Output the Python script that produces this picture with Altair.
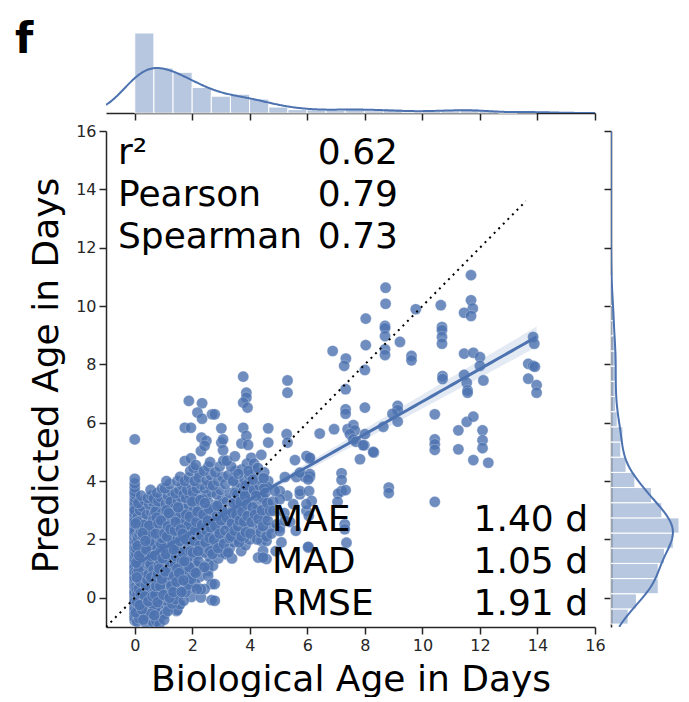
import numpy as np
import pandas as pd
import altair as alt

BLUE = "#4c72b0"
INK = "#262626"
FONT = "DejaVu Sans"

tick_values = [0, 2, 4, 6, 8, 10, 12, 14, 16]
axis_domain = [-1, 16]

stat_names_top = ["r²", "Pearson", "Spearman"]
stat_values_top = ["0.62", "0.79", "0.73"]
stat_names_bottom = ["MAE", "MAD", "RMSE"]
stat_values_bottom = ["1.40 d", "1.05 d", "1.91 d"]

identity_line = [-1.0, 13.6]

# predicted ages of the samples whose biological age is exactly 0 d
pred_at_age_zero = [-0.78, -0.71, -0.63, -0.52, -0.46, -0.38, -0.3, -0.22, -0.15, -0.06,
                    0.02, 0.1, 0.17, 0.26, 0.33, 0.41, 0.48, 0.56, 0.63, 0.71, 0.79, 0.86,
                    0.94, 1.02, 1.09, 1.17, 1.26, 1.33, 1.41, 1.49, 1.56, 1.64, 1.72, 1.8,
                    1.87, 1.95, 2.03, 2.11, 2.18, 2.26, 2.34, 2.41, 2.49, 2.57, 2.65, 2.72,
                    2.8, 2.88, 2.95, 3.03, 3.12, 3.21, 3.3, 3.42, 3.55, 3.64, 3.78, 3.92,
                    4.08, 5.43, 0.3, 0.62, 0.91, 1.22, 1.53, 1.84, 2.15, 2.44, 0.05, -0.33,
                    0.77, 1.36, 1.97, 2.2, 2.5, 1.9, 2.7, -0.68, -0.41, -0.12, 0.14, 0.37,
                    0.52, 0.67, 0.83, 0.98, 1.13, 1.29, 1.45, 1.6, 1.76, 1.91, 2.07, 2.22,
                    2.38, 2.53, 2.69, 2.84, 3.0, 0.22, 0.58, 1.05, 1.7, 2.3, 2.62, -0.55,
                    0.45, 0.18, 0.38, 0.68, 0.88]

# (biological age, predicted age) pairs, grouped by biological-age band
band_00_035 = [(0.08, -0.82), (0.12, -0.6), (0.2, -0.45), (0.1, -0.3), (0.25, -0.15), (0.15, 0.0),
               (0.3, 0.1), (0.08, 0.22), (0.22, 0.35), (0.12, 0.5), (0.3, 0.6), (0.18, 0.72),
               (0.07, 0.85), (0.27, 0.95), (0.15, 1.08), (0.33, 1.2), (0.1, 1.3), (0.22, 1.42),
               (0.3, 1.55), (0.12, 1.65), (0.25, 1.75), (0.18, 1.88), (0.32, 2.0), (0.08, 2.1),
               (0.2, 2.2), (0.28, 2.32), (0.13, 2.45), (0.35, 2.55), (0.2, 2.65), (0.1, 2.78),
               (0.3, 2.9), (0.18, 3.0), (0.26, 3.12), (0.12, 3.25), (0.34, 3.35), (0.22, 3.5),
               (0.15, -0.7), (0.3, -0.5), (0.05, 0.4), (0.2, 1.0), (0.27, 1.6), (0.1, 2.6),
               (0.33, 2.2), (0.05, 1.5), (0.25, 0.25), (0.28, 1.85), (0.05, 1.7)]
band_035_07 = [(0.4, -0.88), (0.55, -0.75), (0.45, -0.6), (0.65, -0.45), (0.5, -0.3), (0.38, -0.15),
               (0.6, -0.05), (0.48, 0.08), (0.68, 0.2), (0.42, 0.3), (0.58, 0.42), (0.36, 0.55),
               (0.52, 0.65), (0.66, 0.78), (0.44, 0.9), (0.6, 1.0), (0.4, 1.12), (0.55, 1.25),
               (0.68, 1.35), (0.47, 1.48), (0.62, 1.6), (0.38, 1.7), (0.53, 1.82), (0.67, 1.95),
               (0.45, 2.05), (0.6, 2.15), (0.4, 2.28), (0.56, 2.4), (0.68, 2.5), (0.48, 2.62),
               (0.63, 2.72), (0.42, 2.85), (0.57, 2.95), (0.67, 3.08), (0.5, 3.2), (0.62, 3.3),
               (0.45, 3.42), (0.58, 3.5), (0.55, 3.7), (0.65, -0.85), (0.5, 0.5), (0.62, 1.15),
               (0.43, 1.9), (0.58, 2.55), (0.66, 3.4), (0.4, 0.7), (0.52, 2.2), (0.6, 0.25),
               (0.47, 1.35), (0.68, 2.85), (0.55, 1.95), (0.6, 1.75), (0.65, 2.2)]
band_07_10 = [(0.75, -0.8), (0.9, -0.65), (0.82, -0.4), (0.95, -0.2), (0.72, 0.0), (0.88, 0.15),
              (0.78, 0.3), (0.98, 0.45), (0.85, 0.6), (0.73, 0.75), (0.93, 0.88), (0.8, 1.0),
              (0.96, 1.15), (0.76, 1.28), (0.9, 1.4), (0.83, 1.55), (0.98, 1.68), (0.72, 1.8),
              (0.88, 1.92), (0.78, 2.05), (0.95, 2.18), (0.85, 2.3), (0.74, 2.42), (0.92, 2.55),
              (0.8, 2.68), (0.97, 2.8), (0.86, 2.92), (0.75, 3.05), (0.93, 3.18), (0.82, 3.3),
              (0.9, 3.45), (0.78, 3.6), (0.95, 3.75), (0.86, -0.9), (0.78, 0.5), (0.93, 1.5),
              (0.85, 2.45), (0.72, 2.95), (0.98, 2.1), (0.8, 1.7), (0.7, 2.6), (0.95, 2.9)]
band_10_135 = [(1.05, -0.55), (1.2, -0.3), (1.1, -0.1), (1.3, 0.1), (1.02, 0.3), (1.18, 0.45),
               (1.08, 0.62), (1.28, 0.78), (1.15, 0.92), (1.03, 1.05), (1.25, 1.2), (1.12, 1.35),
               (1.32, 1.48), (1.07, 1.6), (1.22, 1.72), (1.14, 1.85), (1.3, 1.98), (1.04, 2.1),
               (1.2, 2.22), (1.1, 2.35), (1.28, 2.48), (1.16, 2.6), (1.05, 2.72), (1.24, 2.85),
               (1.12, 2.98), (1.3, 3.1), (1.08, 3.22), (1.2, 3.35), (1.15, 3.5), (1.3, 3.62),
               (1.05, 3.75), (1.22, 3.9), (1.1, 4.0), (1.33, 2.3), (1.18, 1.5), (1.27, 2.7),
               (1.02, 1.9), (1.12, 0.2), (1.25, 3.3), (1.0, 2.5), (1.02, 2.4), (1.15, 2.05),
               (1.3, 2.6), (1.22, 1.8), (1.1, 2.65), (1.05, 1.7)]
band_135_17 = [(1.45, -0.45), (1.55, -0.25), (1.5, 0.05), (1.4, 0.35), (1.62, 0.5), (1.48, 0.7),
               (1.38, 0.95), (1.58, 1.1), (1.45, 1.25), (1.68, 1.38), (1.4, 1.52), (1.55, 1.65),
               (1.65, 1.8), (1.42, 1.95), (1.58, 2.08), (1.48, 2.2), (1.68, 2.32), (1.38, 2.45),
               (1.52, 2.58), (1.62, 2.7), (1.45, 2.82), (1.56, 2.95), (1.4, 3.08), (1.66, 3.2),
               (1.5, 3.32), (1.6, 3.45), (1.42, 3.58), (1.55, 3.7), (1.65, 3.85), (1.48, 4.0),
               (1.58, 4.15), (1.7, 3.0), (1.52, 2.4), (1.63, 1.95), (1.38, 2.75), (1.47, 1.6),
               (1.7, 3.55), (1.6, 2.2), (1.45, 2.15), (1.6, 2.45), (1.55, 2.85), (1.4, 1.85),
               (1.7, 2.6), (1.35, 2.9), (1.48, -0.42), (1.57, -0.22)]
band_17_20 = [(1.74, 5.83), (1.88, 6.75), (1.95, 5.83), (1.74, 4.69), (1.95, 4.78), (1.75, 0.3),
              (1.97, 0.03), (1.97, 0.35), (1.85, 0.8), (1.78, 1.2), (1.92, 1.45), (1.8, 1.6),
              (1.98, 1.75), (1.72, 1.9), (1.88, 2.02), (1.78, 2.15), (1.95, 2.3), (1.83, 2.42),
              (1.72, 2.55), (1.9, 2.68), (1.8, 2.8), (1.98, 2.92), (1.75, 3.05), (1.87, 3.18),
              (1.96, 3.3), (1.78, 3.42), (1.9, 3.55), (1.82, 3.7), (1.98, 3.85), (1.74, 4.0),
              (1.88, 4.12), (1.93, 4.35), (1.8, 2.5), (1.95, 1.0), (1.75, 2.3), (1.9, 2.1),
              (1.85, 1.7), (2.0, 1.9)]
band_20_235 = [(2.34, 6.67), (2.18, 6.35), (2.34, 6.14), (2.32, 5.49), (2.3, 5.03), (2.04, 4.45),
               (2.25, 4.3), (2.12, 4.55), (2.3, 0.01), (2.26, 0.72), (2.3, 1.04), (2.1, 0.5),
               (2.05, 1.3), (2.2, 1.5), (2.32, 1.62), (2.08, 1.75), (2.18, 1.88), (2.28, 2.0),
               (2.15, 2.25), (2.3, 2.38), (2.07, 2.5), (2.12, 2.75),
               (2.33, 2.88), (2.05, 3.0), (2.2, 3.12), (2.28, 3.25), (2.1, 3.38), (2.25, 3.5),
               (2.02, 3.62), (2.16, 3.75), (2.3, 3.88), (2.08, 4.0), (2.22, 4.12), (2.15, 1.1),
               (2.35, 2.7), (2.0, 3.3)]
band_235_27 = [(2.49, 5.38), (2.43, 5.21), (2.69, 6.29), (2.55, 1.15), (2.55, 0.92), (2.55, 0.75),
               (2.67, 0.47), (2.43, 0.3), (2.67, -0.08), (2.6, 1.4), (2.42, 1.55), (2.52, 1.7),
               (2.65, 1.85), (2.38, 2.0), (2.5, 2.12), (2.62, 2.25), (2.68, 2.62), (2.4, 2.75),
               (2.55, 2.88), (2.64, 3.0), (2.47, 3.12), (2.58, 3.25), (2.37, 3.38), (2.52, 3.5),
               (2.66, 3.62), (2.44, 3.75), (2.6, 3.88), (2.5, 4.02), (2.65, 4.2), (2.4, 4.35),
               (2.56, 4.5), (2.62, 4.65), (2.3, 0.3)]
band_27_31 = [(2.78, 6.29), (3.01, 5.81), (3.01, 5.32), (3.07, 5.43), (3.07, 5.06), (2.78, 0.47),
              (2.78, -0.1), (2.72, 1.1), (2.9, 1.35), (3.0, 1.55), (2.8, 1.72), (2.95, 1.88),
              (3.08, 2.05), (2.75, 2.2), (2.88, 2.35), (3.02, 2.5), (2.82, 2.65), (2.97, 2.8),
              (3.1, 2.95), (2.76, 3.1), (2.92, 3.25), (3.05, 3.4), (2.85, 3.55), (2.98, 3.7),
              (2.72, 3.85), (2.9, 4.0), (3.05, 4.15), (2.8, 4.3), (2.95, 4.5), (3.08, 4.7)]
band_31_36 = [(3.15, 1.5), (3.3, 1.7), (3.45, 1.9), (3.2, 2.1), (3.55, 2.25), (3.35, 2.4),
              (3.15, 2.55), (3.5, 2.7), (3.25, 2.85), (3.4, 3.0), (3.58, 3.15), (3.2, 3.3),
              (3.45, 3.45), (3.3, 3.6), (3.55, 3.75), (3.15, 3.9), (3.4, 4.05), (3.25, 4.2),
              (3.5, 4.35), (3.35, 4.5), (3.2, 4.7), (3.48, 4.85), (3.6, 2.0), (3.38, 1.35),
              (3.52, 3.3), (3.28, 2.65)]
band_36_41 = [(3.77, 7.58), (3.88, 7.03), (3.88, 6.86), (3.77, 6.69), (3.92, 6.52), (3.77, 5.83),
              (3.71, 5.29), (3.88, 5.55), (3.94, 5.24), (3.7, 1.6), (3.85, 1.8), (4.0, 2.0),
              (3.65, 2.2), (3.8, 2.4), (3.95, 2.55), (3.7, 2.7), (4.05, 2.85), (3.85, 3.0),
              (3.65, 3.15), (3.98, 3.3), (3.75, 3.45), (3.9, 3.6), (4.08, 3.75), (3.68, 3.9),
              (3.82, 4.05), (3.98, 4.2), (3.72, 4.4), (3.9, 4.6), (4.05, 4.8), (3.8, 2.05)]
band_41_47 = [(4.64, 5.81), (4.64, 5.32), (4.17, 4.35), (4.64, 4.0), (4.41, 3.66), (4.29, 3.21),
              (4.64, 3.21), (4.52, 2.75), (4.41, 1.95), (4.46, 1.61), (4.29, 1.38), (4.58, 1.33),
              (4.2, 2.3), (4.35, 2.5), (4.55, 2.9), (4.25, 3.0), (4.45, 3.4), (4.6, 3.8),
              (4.3, 4.1), (4.5, 4.3), (4.15, 4.6), (4.4, 4.9), (4.7, 2.4), (4.46, 3.43),
              (4.58, 1.95), (4.46, 1.38)]
# lower part of the dense cloud, below the identity line
low_blob = [(0.72, -0.35), (0.85, -0.05), (0.95, 0.3), (1.02, -0.75), (1.08, 0.05), (1.15, -0.45),
            (1.22, 0.25), (1.3, -0.2), (1.35, 0.6), (1.42, -0.05), (1.5, 0.9), (1.58, 0.25),
            (1.65, 0.75), (1.7, -0.1), (1.78, 0.55), (1.85, 1.1), (1.92, 0.7), (0.78, 0.95),
            (0.9, 1.25), (1.0, 0.75), (1.12, 1.15), (1.2, 0.55), (1.28, 1.35), (1.38, 1.05),
            (1.45, 0.5), (1.52, 1.4), (1.6, 0.95), (1.68, 1.15), (1.75, 0.9), (1.82, 1.35),
            (0.1, 0.65), (0.25, 1.25), (0.4, 0.15), (0.5, 0.95), (0.62, -0.25), (0.35, 1.35),
            (0.55, 0.35), (0.3, -0.3), (0.45, 1.6), (0.6, 0.6), (0.06, 0.28), (0.16, 0.6),
            (0.26, 0.5), (0.36, 0.85), (0.46, 0.2), (0.56, 0.55), (0.66, 0.35), (0.76, 0.12),
            (0.86, 0.9), (0.96, 0.6), (1.06, 0.35), (1.16, 0.15), (1.26, 0.95), (1.36, 0.4),
            (1.46, 0.85), (1.56, 0.6), (1.66, 0.95), (1.76, 0.2), (1.86, 0.45), (1.96, 0.65),
            (2.06, 0.9), (2.16, 0.3), (1.9, 1.05), (1.3, 0.25), (0.9, 0.3), (0.5, 0.75)]
# overlapping samples inside the dense cloud (0-4.7 d)
cloud_0_07 = [(0.04, -0.5), (0.09, 0.12), (0.14, 0.3), (0.19, 0.55), (0.24, 0.78), (0.29, 0.88),
              (0.34, 1.02), (0.39, 1.18), (0.44, 1.25), (0.49, 1.4), (0.54, 1.55), (0.59, 1.68),
              (0.64, 1.8), (0.06, 1.92), (0.11, 2.05), (0.16, 2.18), (0.21, 2.28), (0.26, 2.4),
              (0.31, 2.5), (0.36, -0.62), (0.41, 1.72), (0.46, 0.52), (0.51, 1.93), (0.56, -0.55),
              (0.61, 2.38), (0.03, 2.55), (0.08, -0.15), (0.13, 0.95), (0.18, 1.35), (0.23, 1.55),
              (0.28, 2.12), (0.33, 0.72), (0.38, 0.42), (0.43, 0.62), (0.48, 0.8), (0.53, 1.1),
              (0.58, 2.25), (0.63, 2.65), (0.05, 1.2), (0.1, 1.78), (0.15, 1.45), (0.2, 0.15),
              (0.25, -0.4), (0.3, -0.75), (0.35, 0.05), (0.4, 1.65), (0.45, 2.18), (0.5, 2.48),
              (0.55, 1.15), (0.6, 1.42), (0.65, 0.95), (0.07, 0.7), (0.17, -0.25), (0.27, 2.22),
              (0.37, 1.95), (0.47, -0.12), (0.57, 0.7), (0.62, 0.05)]
cloud_07_13 = [(0.68, -0.6), (0.71, 0.1), (0.74, 0.4), (0.77, 0.68), (0.8, 0.82), (0.83, 1.1),
               (0.86, 1.32), (0.89, 1.6), (0.92, 1.85), (0.95, 2.05), (0.98, 2.28), (1.01, 2.5),
               (1.04, 2.62), (1.07, 2.85), (1.1, 3.0), (1.13, 0.55), (1.16, 0.78), (1.19, 1.02),
               (1.22, 1.22), (1.25, 1.45), (1.28, 1.68), (1.31, 1.9), (0.7, 1.45), (0.73, 2.2),
               (0.76, 2.75), (0.79, -0.15), (0.82, 2.55), (0.85, 1.0), (0.88, 0.4), (0.91, 2.65),
               (0.94, 0.65), (0.97, 1.35), (1.0, 0.1), (1.03, 2.2), (1.06, 0.9), (1.09, 1.5),
               (1.12, 2.1), (1.15, 2.45), (1.18, 2.9), (1.21, 0.0), (1.24, 2.35), (1.27, 0.4)]
cloud_13_20 = [(1.34, 0.2), (1.37, 0.75), (1.4, 1.15), (1.43, 1.42), (1.46, 1.72), (1.49, 2.05),
               (1.52, 2.25), (1.55, 2.5), (1.58, 2.68), (1.61, 2.9), (1.64, 1.25), (1.67, 1.55),
               (1.7, 2.05), (1.73, 2.4), (1.76, 2.62), (1.79, 2.85), (1.82, 1.95), (1.85, 2.25),
               (1.88, 2.5), (1.91, 2.78), (1.94, 1.6), (1.97, 2.15), (1.36, 1.65), (1.39, 2.3),
               (1.42, 2.6), (1.45, 0.55), (1.48, 1.0), (1.51, 3.1), (1.54, 0.85), (1.57, 1.95),
               (1.6, 2.35), (1.63, 0.2), (1.66, 2.2), (1.69, 0.6), (1.72, 1.25), (1.77, 2.0)]
cloud_20_33 = [(2.02, 1.55), (2.06, 1.95), (2.1, 2.3), (2.14, 2.6), (2.18, 2.95), (2.22, 1.25),
               (2.26, 1.8), (2.3, 2.15), (2.34, 2.5), (2.38, 2.85), (2.42, 1.05), (2.46, 1.9),
               (2.5, 2.3), (2.54, 2.65), (2.58, 3.05), (2.62, 1.6), (2.64, 2.4), (2.12, 0.85),
               (2.28, 3.35), (2.44, 3.25), (2.6, 2.05), (2.2, 1.6), (2.7, 1.5), (2.75, 2.0),
               (2.8, 2.45), (2.85, 2.8), (2.9, 1.7), (2.95, 2.2), (3.0, 2.65), (3.05, 3.0),
               (3.1, 1.85), (3.15, 2.3), (3.2, 2.75), (3.25, 1.55), (3.3, 2.05), (2.87, 3.15)]
cloud_33_47 = [(3.35, 2.1), (3.38, 2.55), (3.41, 2.9), (3.44, 3.25), (3.47, 2.3), (3.5, 3.6),
               (3.53, 2.85), (3.56, 3.55), (3.59, 2.45), (3.62, 1.9), (3.65, 2.65), (3.68, 3.3),
               (3.71, 2.1), (3.74, 2.95), (3.77, 3.65), (3.8, 2.6), (3.83, 3.5), (3.86, 2.25),
               (3.89, 3.2), (3.92, 2.8), (3.95, 4.35), (3.97, 3.95), (3.42, 4.0), (3.6, 4.25),
               (3.85, 3.85), (4.02, 2.2), (4.06, 2.6), (4.1, 3.1), (4.14, 3.7), (4.18, 2.85),
               (4.22, 3.5), (4.26, 2.0), (4.3, 2.7), (4.34, 3.85), (4.38, 2.25), (4.42, 3.0),
               (4.46, 2.45), (4.5, 3.75), (4.54, 3.6), (4.58, 2.1), (4.62, 2.65), (4.1, 4.05),
               (4.28, 4.45), (4.48, 4.1), (4.6, 3.25)]
sparse_mid = [(4.7, 2.98), (5.04, 2.41), (4.93, 2.52), (5.51, 3.21), (5.74, 3.55), (5.97, 2.98),
              (4.8, 3.3), (5.2, 2.9), (5.4, 2.6), (4.75, 2.2), (5.1, 1.9), (5.6, 2.3), (4.9, 1.6),
              (5.3, 3.5), (5.57, 4.72), (6.06, 4.78), (6.09, 4.14), (5.22, 4.14), (5.62, 4.14),
              (5.91, 4.14), (5.04, 3.66), (5.04, 3.38), (5.04, 2.29), (6.03, 1.72), (5.22, 2.64),
              (4.81, 2.98), (4.87, 3.66), (5.74, 4.29), (5.28, 5.61), (5.31, 5.32), (6.43, 5.63),
              (6.93, 5.78), (5.74, 3.66), (6.05, 2.81), (6.09, 4.24), (6.03, 4.06), (6.06, 3.66),
              (6.15, 3.32), (5.97, 3.21), (5.97, 4.86), (6.09, 4.8), (6.03, 1.75), (5.31, 7.45),
              (5.31, 7.03)]
sparse_high = [(8.72, 10.63), (8.72, 10.08), (8.03, 9.57), (8.7, 9.32), (8.7, 9.24), (8.7, 8.97),
               (8.7, 8.52), (8.7, 8.32), (8.03, 8.66), (9.22, 8.77), (9.77, 9.89), (10.64, 10.03),
               (10.68, 9.28), (10.68, 9.17), (10.68, 8.94), (10.68, 8.71), (11.69, 11.06),
               (11.69, 10.2), (11.75, 9.92), (11.45, 9.77), (11.69, 9.66), (6.88, 8.46), (7.34, 8.2),
               (7.28, 7.95), (8.0, 7.81), (9.62, 8.29), (9.62, 8.14), (11.45, 8.37), (11.77, 8.4),
               (12.0, 8.25), (12.0, 7.95), (10.7, 7.6), (10.7, 7.5), (11.45, 7.64), (11.54, 7.37),
               (11.57, 7.11), (11.57, 7.03), (12.12, 7.45), (13.85, 8.94), (13.89, 8.71),
               (13.68, 8.02), (13.85, 7.95), (13.91, 7.92), (13.68, 7.51), (13.97, 7.29),
               (13.97, 7.03), (7.33, 7.15), (7.33, 6.46), (7.33, 6.31), (8.0, 6.52), (9.14, 6.58),
               (9.14, 6.43), (8.96, 6.31), (9.14, 6.04), (7.4, 5.78), (7.6, 5.92), (7.65, 5.74),
               (7.48, 5.61), (7.6, 5.43), (7.69, 5.35), (8.0, 5.61), (7.98, 5.23), (8.31, 4.98),
               (8.64, 5.86), (7.83, 4.75), (10.43, 6.29), (10.43, 5.43), (10.43, 5.26),
               (10.43, 5.07), (11.25, 5.74), (11.25, 5.09), (11.54, 6.03), (11.77, 6.21),
               (12.09, 5.74), (12.09, 5.4), (12.09, 5.13), (11.77, 4.72), (12.29, 4.63),
               (10.43, 3.29), (8.83, 3.78), (8.83, 3.59), (7.19, 4.27), (7.19, 4.04), (7.19, 3.66),
               (7.07, 3.57), (7.05, 3.29), (7.33, 3.69), (7.3, 2.52), (7.3, 2.35), (7.36, 1.89),
               (7.94, 5.23), (8.29, 5.0)]

# ---------------------------------------------------------------- table
pairs = ([(0.0, v) for v in pred_at_age_zero] + band_00_035 + band_035_07 + band_07_10
         + band_10_135 + band_135_17 + band_17_20 + band_20_235 + band_235_27 + band_27_31
         + band_31_36 + band_36_41 + band_41_47 + low_blob + cloud_0_07 + cloud_07_13
         + cloud_13_20 + cloud_20_33 + cloud_33_47 + sparse_mid + sparse_high)
df = pd.DataFrame(pairs, columns=["bio", "pred"])
x = df["bio"].to_numpy()
y = df["pred"].to_numpy()
n = len(x)

# linear fit with 95% confidence band
slope, intercept = np.polyfit(x, y, 1)
grid = np.linspace(x.min(), x.max(), 100)
fit = intercept + slope * grid
resid = y - (intercept + slope * x)
s_err = np.sqrt(np.sum(resid ** 2) / (n - 2))
sxx = np.sum((x - x.mean()) ** 2)
se = s_err * np.sqrt(1.0 / n + (grid - x.mean()) ** 2 / sxx)
fit_df = pd.DataFrame({"g": grid, "fit": fit, "lo": fit - 1.96 * se, "hi": fit + 1.96 * se})


def hist_and_kde(v, bins):
    counts, edges = np.histogram(v, bins=bins)
    h = pd.DataFrame({"start": edges[:-1], "end": edges[1:], "count": counts})
    bw = np.std(v, ddof=1) * len(v) ** (-1 / 5)
    g = np.linspace(-1, 16, 500)
    dens = np.exp(-0.5 * ((g[:, None] - v[None, :]) / bw) ** 2).sum(axis=1) / (len(v) * bw * np.sqrt(2 * np.pi))
    k = pd.DataFrame({"g": g, "d": dens * len(v) * (edges[1] - edges[0])})
    return h, k


hist_x, kde_x = hist_and_kde(x, 21)
hist_y, kde_y = hist_and_kde(y, 23)

one = pd.DataFrame({"k": [0]})

xs = alt.Scale(domain=axis_domain, nice=False, zero=False)
ys = alt.Scale(domain=axis_domain, nice=False, zero=False)

common_axis = dict(values=tick_values, grid=False, tickSize=7, tickWidth=1.5, domainWidth=1.5,
                   domainColor=INK, tickColor=INK, labelColor=INK, labelFontSize=16,
                   labelFont=FONT, titleFont=FONT, titleFontWeight="normal",
                   titleColor="black", labelFlush=False, labelOverlap=False, labelPadding=3)
x_axis = alt.Axis(title="Biological Age in Days", titlePadding=9, titleFontSize=36, **common_axis)
y_axis = alt.Axis(title="Predicted Age in Days", titlePadding=10, titleFontSize=36, titleY=244, **common_axis)

X = lambda f: alt.X(f, scale=xs, axis=x_axis)
Y = lambda f: alt.Y(f, scale=ys, axis=y_axis)

points = alt.Chart(df).mark_circle(size=125, color=BLUE, opacity=0.8, stroke="white",
                                   strokeWidth=0.3, clip=True).encode(x=X("bio:Q"), y=Y("pred:Q"))
band = alt.Chart(fit_df).mark_area(color=BLUE, opacity=0.15).encode(x=X("g:Q"), y=Y("lo:Q"), y2="hi:Q")
line = alt.Chart(fit_df).mark_line(color=BLUE, strokeWidth=3).encode(x=X("g:Q"), y=Y("fit:Q"))
ident = alt.Chart(pd.DataFrame({"v": identity_line})).mark_line(
    color="black", strokeDash=[2, 4.5], strokeWidth=2, clip=True).encode(x=X("v:Q"), y=Y("v:Q"))

txt = dict(font=FONT, fontSize=36, lineHeight=42, baseline="alphabetic", color="black")
t1 = alt.Chart(one).mark_text(text=stat_names_top, align="left", **txt).encode(x=alt.value(12), y=alt.value(33))
t2 = alt.Chart(one).mark_text(text=stat_values_top, align="right", **txt).encode(x=alt.value(292), y=alt.value(33))
t3 = alt.Chart(one).mark_text(text=stat_names_bottom, align="left", **txt).encode(x=alt.value(166), y=alt.value(400))
t4 = alt.Chart(one).mark_text(text=stat_values_bottom, align="right", **txt).encode(x=alt.value(482), y=alt.value(400))

main = alt.layer(points, band, line, ident, t1, t2, t3, t4).properties(width=489, height=496)

marg_axis = dict(values=tick_values, labels=False, title=None, grid=False, tickSize=7,
                 tickWidth=1.5, domainWidth=1.5, domainColor=INK, tickColor=INK)

top_max = hist_x["count"].max() * 85 / 80
top_scale = alt.Scale(domain=[0, top_max], nice=False)
top_bars = alt.Chart(hist_x).mark_rect(fill=BLUE, fillOpacity=0.4, stroke="white", strokeWidth=1).encode(
    x=alt.X("start:Q", scale=xs, axis=alt.Axis(orient="bottom", **marg_axis)), x2="end:Q",
    y=alt.Y("count:Q", scale=top_scale, axis=None), y2=alt.datum(0))
top_kde = alt.Chart(kde_x).mark_line(color=BLUE, strokeWidth=2, clip=True).encode(
    x=alt.X("g:Q", scale=xs, axis=alt.Axis(orient="bottom", **marg_axis)),
    y=alt.Y("d:Q", scale=top_scale, axis=None))
panel = alt.Chart(one).mark_text(text="f", font=FONT, fontSize=42, fontWeight="bold", align="left",
                                 baseline="alphabetic", color="black").encode(x=alt.value(-91), y=alt.value(25))
top = alt.layer(top_bars, top_kde, panel).properties(width=489, height=85)

right_scale = alt.Scale(domain=[0, hist_y["count"].max()], nice=False)
right_bars = alt.Chart(hist_y).mark_rect(fill=BLUE, fillOpacity=0.4, stroke="white", strokeWidth=1).encode(
    y=alt.Y("start:Q", scale=ys, axis=alt.Axis(orient="left", **marg_axis)), y2="end:Q",
    x=alt.X("count:Q", scale=right_scale, axis=None), x2=alt.datum(0))
right_kde = alt.Chart(kde_y).mark_line(color=BLUE, strokeWidth=2, clip=True).encode(
    y=alt.Y("g:Q", scale=ys, axis=alt.Axis(orient="left", **marg_axis)),
    x=alt.X("d:Q", scale=right_scale, axis=None), order="g:Q")
right = alt.layer(right_bars, right_kde).properties(width=68, height=496)

chart = alt.vconcat(
    top,
    alt.hconcat(main, right, spacing=16, bounds="flush"),
    spacing=18, bounds="flush",
).properties(padding={"left": 7, "top": 11, "right": 0, "bottom": 0}).configure_view(stroke=None)

chart.save("out.html", embed_options={"renderer": "svg", "actions": False})
